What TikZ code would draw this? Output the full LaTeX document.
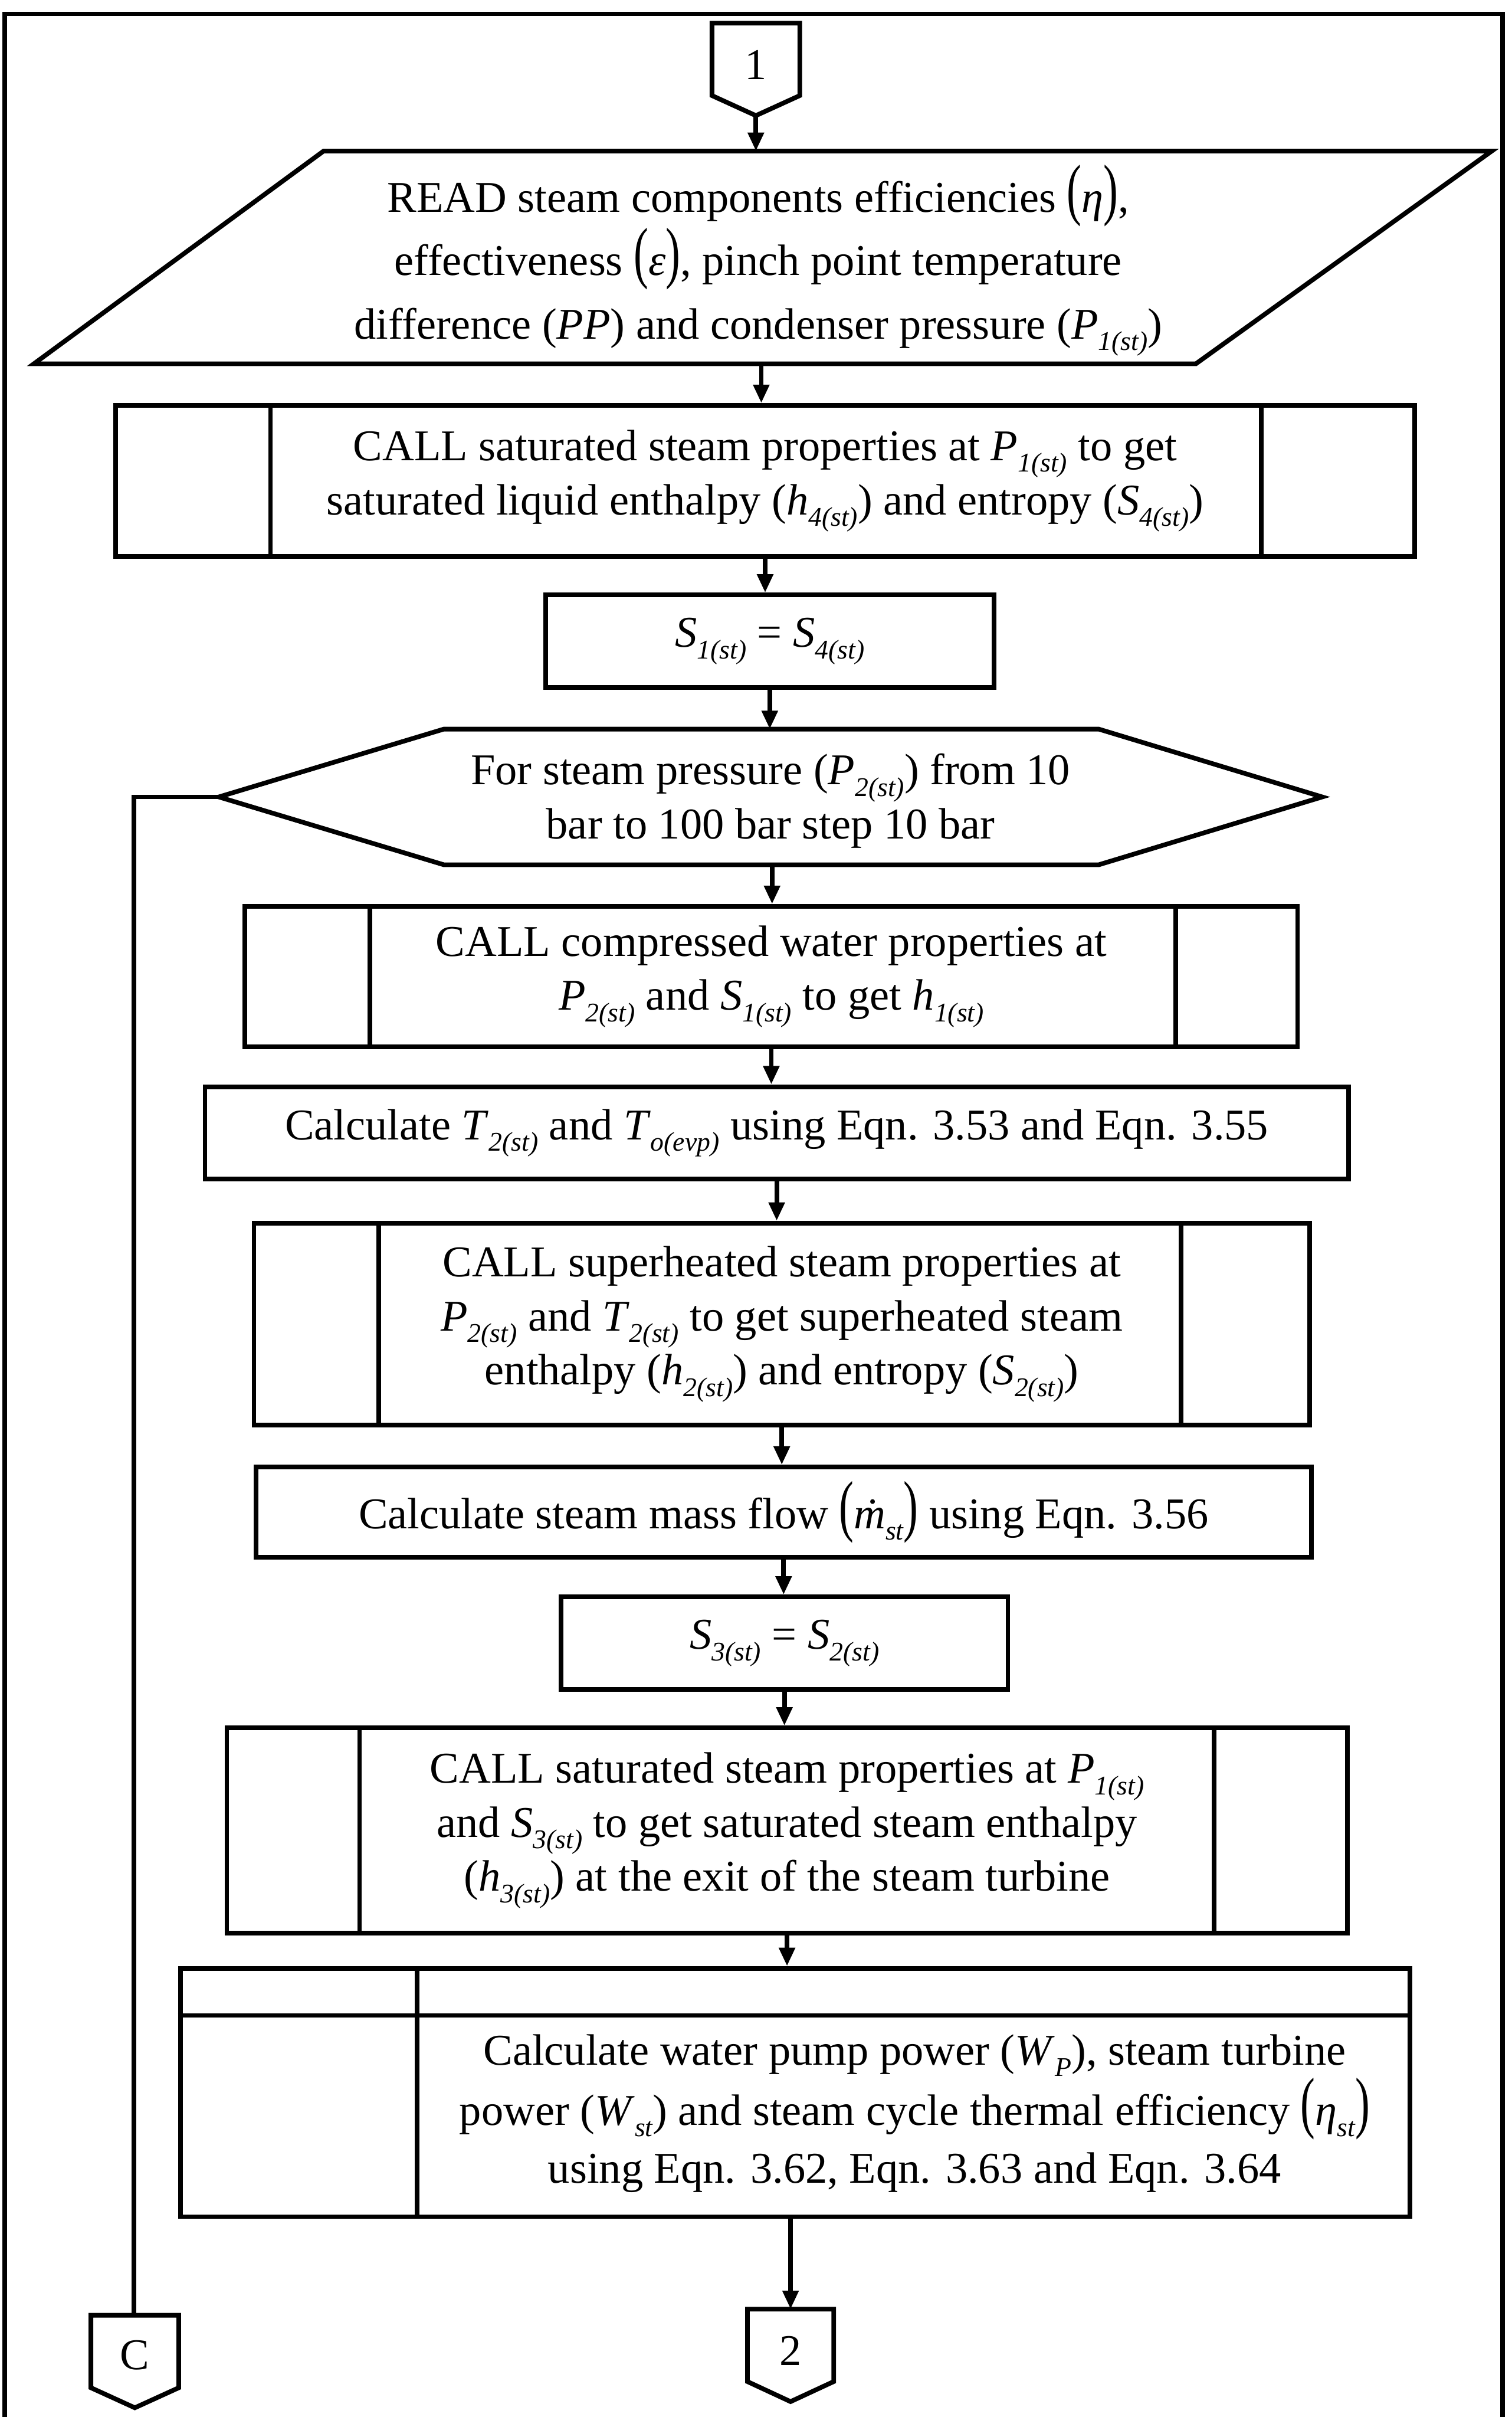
\documentclass[tikz,border=0pt]{standalone}
\usepackage{fontspec}
\setmainfont{Liberation Serif}
\usepackage{graphicx}
\usetikzlibrary{arrows.meta}

% text sizes
\newcommand\txt{\fontsize{28.5}{35}\selectfont}
% italic variable with italic subscript
\newcommand\sbs[1]{\raisebox{-0.26em}{\fontsize{17.5}{17.5}\selectfont\itshape #1}}
\newcommand\vr[2]{\textit{#1}\sbs{#2}}
% tall parentheses
\newcommand\lpar{\scalebox{1}[1.55]{(}}
\newcommand\rpar{\scalebox{1}[1.55]{)}}
% subroutine side bars
\newcommand\sidebars[3]{%
  \draw[ln] ([xshift=#2pt]#1.north west) -- ([xshift=#2pt]#1.south west);
  \draw[ln] ([xshift=-#3pt]#1.north east) -- ([xshift=-#3pt]#1.south east);}

\tikzset{
  ln/.style={line width=3pt, line join=miter},
  lbl/.style={align=center, inner sep=0pt, font=\txt},
  box/.style={ln, draw, rectangle, inner sep=0pt, lbl},
  arr/.style={ln, -{Triangle[length=12pt,width=10pt]}},
}

\begin{document}
\begin{tikzpicture}[x=1pt,y=-1pt]
\useasboundingbox (0,0) rectangle (981,1568);

% outer frame
\draw[ln] (3,1568) -- (3,9) -- (975,9) -- (975,1568);

% off-page connector 1
\draw[ln] (462,15) -- (519,15) -- (519,62) -- (490.5,75) -- (462,62) -- cycle;
\node[lbl] (c1) at (490.5,42) {1};
\coordinate (c1S) at (490.5,75);

% input parallelogram
\draw[ln] (22,236) -- (210,98) -- (968,98) -- (776,236) -- cycle;
\coordinate (readN) at (494,98);
\coordinate (readS) at (494,236);
\node[lbl, font=\fontsize{28.5}{41}\selectfont] (read) at (492,169)
  {READ steam components efficiencies \lpar\textit{η}\rpar,\\
   effectiveness \lpar\textit{ε}\rpar, pinch point temperature\\
   difference (\textit{PP}) and condenser pressure (\vr{P}{1(st)})};

% saturated liquid properties
\node[box, minimum width=843pt, minimum height=98pt] (call1) at (496.5,312)
  {CALL saturated steam properties at \vr{P}{1(st)} to get\\
   saturated liquid enthalpy (\vr{h}{4(st)}) and entropy (\vr{S}{4(st)})};
\sidebars{call1}{102}{101}

\node[box, minimum width=291pt, minimum height=60pt] (s1) at (499.5,416)
  {\vr{S}{1(st)} = \vr{S}{4(st)}};

% loop hexagon
\draw[ln] (142,517) -- (288,473) -- (713,473) -- (858,517) -- (713,561) -- (288,561) -- cycle;
\coordinate (hexN) at (500,473);
\coordinate (hexS) at (501,561);
\coordinate (hexW) at (142,517);
\node[lbl] (loop) at (500,519.5)
  {For steam pressure (\vr{P}{2(st)}) from 10\\ bar to 100 bar step 10 bar};

\node[box, minimum width=683pt, minimum height=91pt] (comp) at (500.5,633.5)
  {CALL compressed water properties at\\
   \vr{P}{2(st)} and \vr{S}{1(st)} to get \vr{h}{1(st)}};
\sidebars{comp}{82.5}{80.5}

\node[box, minimum width=742pt, minimum height=60pt] (calcT) at (504,735)
  {Calculate \vr{T}{2(st)} and \vr{T}{o(evp)} using Eqn. 3.53 and Eqn. 3.55};

\node[box, minimum width=685pt, minimum height=131pt] (sup) at (507.3,859)
  {CALL superheated steam properties at\\
   \vr{P}{2(st)} and \vr{T}{2(st)} to get superheated steam\\
   enthalpy (\vr{h}{2(st)}) and entropy (\vr{S}{2(st)})};
\sidebars{sup}{82.4}{85}

\node[box, minimum width=685pt, minimum height=58.5pt] (mass) at (508.5,981)
  {Calculate steam mass flow \lpar\vr{ṁ}{st}\rpar{} using Eqn. 3.56};

\node[box, minimum width=290pt, minimum height=60pt] (s3) at (509,1066)
  {\vr{S}{3(st)} = \vr{S}{2(st)}};

\node[box, minimum width=727pt, minimum height=133pt] (sat2) at (510.7,1187.5)
  {CALL saturated steam properties at \vr{P}{1(st)}\\
   and \vr{S}{3(st)} to get saturated steam enthalpy\\
   (\vr{h}{3(st)}) at the exit of the steam turbine};
\sidebars{sat2}{87.6}{88}

% output routine box with header strip
\node[ln, draw, rectangle, minimum width=798pt, minimum height=161pt] (last) at (516,1357.5) {};
\draw[ln] ([yshift=-32pt]last.north west) -- ([yshift=-32pt]last.north east);
\draw[ln] ([xshift=155pt]last.north west) -- ([xshift=155pt]last.south west);
\node[lbl, font=\fontsize{28.5}{37.5}\selectfont] (work) at (593.5,1371)
  {Calculate water pump power (\vr{W}{P}), steam turbine\\
   power (\vr{W}{st}) and steam cycle thermal efficiency \lpar\vr{η}{st}\rpar\\
   using Eqn. 3.62, Eqn. 3.63 and Eqn. 3.64};

% off-page connectors 2 and C
\draw[ln] (485,1498) -- (541,1498) -- (541,1545) -- (513,1558) -- (485,1545) -- cycle;
\node[lbl] (c2) at (513,1525) {2};
\coordinate (c2N) at (513,1498);
\draw[ln] (59,1502) -- (116,1502) -- (116,1549) -- (87.5,1562) -- (59,1549) -- cycle;
\node[lbl] (cC) at (87.5,1528) {C};
\coordinate (cCN) at (87,1502);

% flow
\draw[arr] (c1S) -- (c1S |- readN);
\draw[arr] (readS) -- (readS |- call1.north);
\draw[arr] (call1.south) -- (call1.south |- s1.north);
\draw[arr] (s1.south) -- (s1.south |- hexN);
\draw[arr] (hexS) -- (hexS |- comp.north);
\draw[arr] (comp.south) -- (comp.south |- calcT.north);
\draw[arr] (calcT.south) -- (calcT.south |- sup.north);
\draw[arr] (sup.south) -- (sup.south |- mass.north);
\draw[arr] (mass.south) -- (mass.south |- s3.north);
\draw[arr] (s3.south) -- (s3.south |- sat2.north);
\draw[arr] (sat2.south) -- (sat2.south |- last.north);
\draw[arr] (last.south -| c2N) -- (c2N);
\draw[ln] (hexW) -| (cCN);
\end{tikzpicture}
\end{document}
